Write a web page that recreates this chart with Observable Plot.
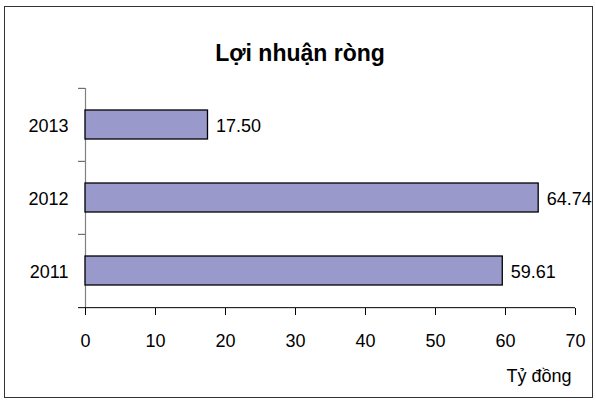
<!DOCTYPE html>
<html>
<head>
<meta charset="utf-8">
<script src="https://cdn.jsdelivr.net/npm/d3@7"></script>
<script src="https://cdn.jsdelivr.net/npm/@observablehq/plot@0.6"></script>
<style>
  html, body { margin: 0; padding: 0; background: #fff; }
  #wrap { position: relative; width: 596px; height: 403px; overflow: hidden; }
  #border { position: absolute; left: 4px; top: 6px; width: 589px; height: 392px; border: 1px solid #333; box-sizing: border-box; }
  #chart { position: absolute; left: 0; top: 0; }
</style>
</head>
<body>
<div id="wrap"><div id="border"></div><div id="chart"></div></div>
<script>
const title = "Lợi nhuận ròng";
const unitLabel = "Tỷ đồng";
const years = ["2013", "2012", "2011"];
const values = [17.50, 64.74, 59.61];
const xTicks = [0, 10, 20, 30, 40, 50, 60, 70];

const data = years.map((y, i) => ({ year: y, value: values[i] }));
const half = 220 / 3 / 2;

const chart = Plot.plot({
  width: 596,
  height: 403,
  marginLeft: 85,
  marginRight: 21,
  marginTop: 88,
  marginBottom: 95,
  style: { fontFamily: "'Liberation Sans', Arial, sans-serif", fontSize: "18px", background: "transparent", color: "#000" },
  x: { domain: [0, 70], label: null },
  y: { domain: years, paddingInner: 0.6, paddingOuter: 0.3, label: null },
  marks: [
    Plot.ruleX([0], { stroke: "#808080", strokeWidth: 1.2 }),
    Plot.ruleY(years, { y: d => d, x1: -1, x2: 0, dy: -half, stroke: "#555" }),
    Plot.ruleY([years[years.length - 1]], { y: d => d, x1: -1, x2: 70, dy: half, stroke: "#000" }),
    Plot.axisX({ ticks: xTicks, tickSize: 7, tickPadding: 19, tickFormat: d => String(d), fontSize: 18, stroke: "#000", fill: "#000", label: null }),
    Plot.axisY({ tickSize: 0, tickPadding: 17, fontSize: 18, fill: "#000", dy: 1.5, label: null }),
    Plot.barX(data, { x: "value", y: "year", fill: "#9999cc", stroke: "#000", strokeWidth: 1.3 }),
    Plot.text(data, { x: "value", y: "year", text: d => d.value.toFixed(2), textAnchor: "start", dx: 8, dy: 1.5, fontSize: 18, fill: "#000" }),
    Plot.text([title], { frameAnchor: "top", text: d => d, dx: -30.5, dy: -43.4, fontSize: 23, fontWeight: "bold", fill: "#000" }),
    Plot.text([unitLabel], { frameAnchor: "bottom-right", text: d => d, textAnchor: "end", dx: -4, dy: 73, fontSize: 18, fill: "#000" })
  ]
});
document.getElementById("chart").appendChild(chart);
</script>
</body>
</html>
